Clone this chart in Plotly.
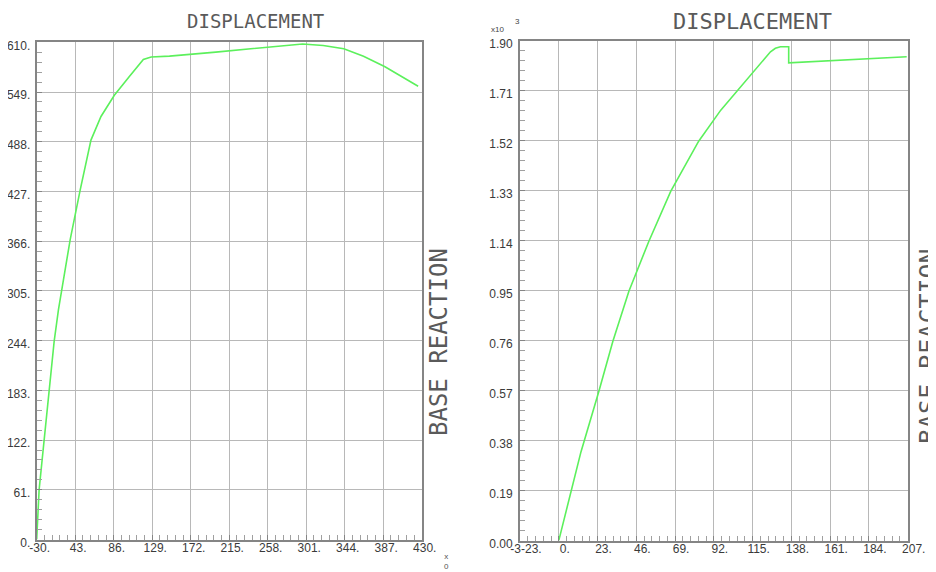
import plotly.graph_objects as go

# ---------------- data ----------------
left_disp = [0, 2.7, 8.3, 13.9, 19.5, 24.3, 37.4, 48.6, 60.6, 71.8, 86.7, 103.5, 119.1, 127.8,
             148.3, 200, 250, 297, 320, 343, 365, 389, 426]
left_react = [0, 61, 122, 184, 243, 282, 368, 429, 490, 519, 545, 568, 589, 592,
              593, 598, 603, 608, 606, 602, 593, 580, 556]

right_disp = [0, 13.2, 23.8, 32.1, 41.6, 53.4, 66.4, 83.0, 96.1, 106.1, 125.6, 128.5, 131.5,
              136.4, 136.4, 206.4]
right_react = [0, 0.338, 0.568, 0.758, 0.948, 1.137, 1.327, 1.518, 1.636, 1.712, 1.858, 1.871,
               1.877, 1.877, 1.816, 1.839]

left_xticks = [0, 43, 86, 129, 172, 215, 258, 301, 344, 387, 430]
left_xlabels = ["-30.", "43.", "86.", "129.", "172.", "215.", "258.", "301.", "344.", "387.", "430."]
left_yticks = [0, 61, 122, 183, 244, 305, 366, 427, 488, 549, 610]
left_ylabels = ["0.", "61.", "122.", "183.", "244.", "305.", "366.", "427.", "488.", "549.", "610."]

right_xticks = [-23, 0, 23, 46, 69, 92, 115, 138, 161, 184, 207]
right_xlabels = ["-3-23.", "0.", "23.", "46.", "69.", "92.", "115.", "138.", "161.", "184.", "207."]
right_yticks = [0, 0.19, 0.38, 0.57, 0.76, 0.95, 1.14, 1.33, 1.52, 1.71, 1.90]
right_ylabels = ["0.00", "0.19", "0.38", "0.57", "0.76", "0.95", "1.14", "1.33", "1.52", "1.71", "1.90"]

# page body has an 8px default margin: the figure is drawn offset by that amount
OFF = 8
W, H = 936 - OFF, 572 - OFF
GREEN = "#5cf05c"
GRID = "#b8b8b8"
AXIS = "#858585"
LABEL = "#3a3a3a"
TFONT = "DejaVu Sans Mono"

fig = go.Figure()
fig.add_trace(go.Scatter(x=left_disp, y=left_react, mode="lines",
                         line=dict(color=GREEN, width=1.6), xaxis="x", yaxis="y",
                         showlegend=False, hoverinfo="skip"))
fig.add_trace(go.Scatter(x=right_disp, y=right_react, mode="lines",
                         line=dict(color=GREEN, width=1.6), xaxis="x2", yaxis="y2",
                         showlegend=False, hoverinfo="skip"))


def axis(dom, rng, tv, tt, minor_dt, anchor, **kw):
    return dict(domain=dom, range=rng, tickmode="array", tickvals=tv, ticktext=tt,
                showgrid=True, gridcolor=GRID, gridwidth=1, zeroline=False,
                showline=True, linecolor=AXIS, linewidth=2, mirror=True,
                ticks="inside", ticklen=5, tickcolor=AXIS,
                minor=dict(ticks="inside", ticklen=5, dtick=minor_dt, tickcolor="#a0a0a0",
                           showgrid=False, tick0=rng[0]),
                tickfont=dict(family="Liberation Sans, Arial", size=12, color=LABEL),
                anchor=anchor, fixedrange=True, automargin=False, **kw)


def px_x(p):
    return (p - OFF) / W


def px_y(p):
    return 1 - (p - OFF) / H


fig.update_layout(
    width=W, height=H, margin=dict(l=0, r=0, t=0, b=0),
    paper_bgcolor="white", plot_bgcolor="white",
    xaxis=axis([px_x(36.7), px_x(421.7)], [0, 430], left_xticks, left_xlabels, 8.6, "y",
               ticklabelstandoff=-4, ticklabelshift=3),
    yaxis=axis([px_y(539.5), px_y(42.3)], [0, 610], left_yticks, left_ylabels, 12.2, "x",
               ticklabelshift=3, ticklabelstandoff=2),
    xaxis2=axis([px_x(520), px_x(907.7)], [-23, 207], right_xticks, right_xlabels, 4.6, "y2",
                ticklabelstandoff=-4, ticklabelshift=6),
    yaxis2=axis([px_y(540.6), px_y(40.7)], [0, 1.90], right_yticks, right_ylabels, 0.038, "x2",
                ticklabelshift=3, ticklabelstandoff=3),
)

ann = []
ann.append(dict(text="DISPLACEMENT", x=px_x(255), y=px_y(21), xref="paper", yref="paper",
                showarrow=False, font=dict(family=TFONT, size=19, color="#5a5a5a"),
                xanchor="center", yanchor="middle", borderpad=0))
ann.append(dict(text="DISPLACEMENT", x=px_x(752.5), y=1, xref="paper", yref="paper",
                showarrow=False, font=dict(family=TFONT, size=22, color="#5a5a5a"),
                xanchor="center", yanchor="top", borderpad=0))
ann.append(dict(text="BASE REACTION", x=px_x(439), y=px_y(342), xref="paper", yref="paper",
                showarrow=False, textangle=-90, font=dict(family=TFONT, size=24, color="#5a5a5a"),
                xanchor="center", yanchor="middle"))
ann.append(dict(text="BASE REACTION", x=px_x(928), y=px_y(346), xref="paper", yref="paper",
                showarrow=False, textangle=-90, font=dict(family=TFONT, size=25, color="#5a5a5a"),
                xanchor="center", yanchor="middle"))
ann.append(dict(text="x10", x=px_x(497), y=px_y(29), xref="paper", yref="paper",
                showarrow=False, font=dict(family="Liberation Sans", size=8, color="#444"),
                xanchor="center", yanchor="middle", borderpad=0))
ann.append(dict(text="3", x=px_x(518), y=px_y(21), xref="paper", yref="paper",
                showarrow=False, font=dict(family="Liberation Sans", size=8, color="#444"),
                xanchor="center", yanchor="middle", borderpad=0))
for xc in (446.5, 932):
    ann.append(dict(text="x<br>0", x=px_x(xc), y=px_y(561), xref="paper", yref="paper",
                    showarrow=False, font=dict(family="Liberation Sans", size=8, color="#555"),
                    xanchor="center", yanchor="middle", borderpad=0))
fig.update_layout(annotations=ann)

fig.write_html("out.html")
